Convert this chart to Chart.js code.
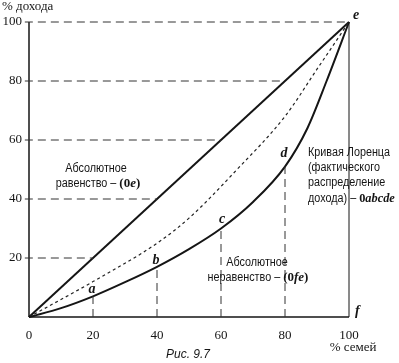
<!DOCTYPE html>
<html>
<head>
<meta charset="utf-8">
<script src="https://cdn.jsdelivr.net/npm/chart.js@4/dist/chart.umd.min.js"></script>
<style>
html,body{margin:0;padding:0;background:#fff;}
#c{display:block;}
</style>
</head>
<body>
<canvas id="c" width="399" height="363"></canvas>
<script>
// ---- data ----
const xTicks = [0, 20, 40, 60, 80, 100];
const yTicks = [20, 40, 60, 80, 100];
const equalityX = [0, 100];
const equalityY = [0, 100];
// Lorenz curve 0abcde (with extra readings between the named points)
const lorenzX = [0, 10, 20, 30, 40, 50, 60, 70, 80, 87, 93, 100];
const lorenzY = [0, 3, 7, 11.8, 17, 23, 30, 39, 51, 64, 80, 100];
// intermediate (dashed) curve
const midX = [0, 20, 40, 50, 65, 80, 90, 100];
const midY = [0, 12, 25, 33.5, 50, 68, 84, 100];
// named points on the Lorenz curve
const pointNames = ['a', 'b', 'c', 'd'];
const pointX = [20, 40, 60, 80];
const pointY = [7, 17, 30, 51];

const INK = '#151515';
const SERIF = '"Liberation Serif", "Times New Roman", serif';
const SANS = '"Liberation Sans", Arial, sans-serif';
const NARROW = 0.9;

function pts(xs, ys) { return xs.map((x, i) => ({x: x, y: ys[i]})); }

const datasets = [];
// horizontal dashed guides from y axis (with small tick stub) to the diagonal
yTicks.forEach(v => {
  datasets.push({data: [{x: -1.3, y: v}, {x: v, y: v}], borderColor: '#333', borderWidth: 1,
    borderDash: [8, 5], clip: false});
});
// vertical dashed guides from the x axis up to the Lorenz points
pointX.forEach((x, i) => {
  datasets.push({data: [{x: x, y: 0}, {x: x, y: pointY[i]}], borderColor: '#333', borderWidth: 1,
    borderDash: [8, 5], clip: false});
});
// axes and right edge (0f, fe)
datasets.push({data: [{x: 0, y: 0}, {x: 0, y: 100}], borderColor: INK, borderWidth: 1.5, clip: false});
datasets.push({data: [{x: 0, y: 0}, {x: 100, y: 0}], borderColor: INK, borderWidth: 1.5, clip: false});
datasets.push({data: [{x: 100, y: 0}, {x: 100, y: 100}], borderColor: INK, borderWidth: 1, clip: false});
// dashed intermediate curve
datasets.push({data: pts(midX, midY), borderColor: '#222', borderWidth: 1.2, borderDash: [3, 3],
  cubicInterpolationMode: 'monotone', clip: false});
// line of absolute equality
datasets.push({data: pts(equalityX, equalityY), borderColor: INK, borderWidth: 2, clip: false});
// Lorenz curve
datasets.push({data: pts(lorenzX, lorenzY), borderColor: INK, borderWidth: 2,
  cubicInterpolationMode: 'monotone', clip: false});

datasets.forEach(d => { d.showLine = true; d.pointRadius = 0; d.fill = false; });

// draw a line of mixed-font text; parts are [text, font, horizontalScale]
function runs(ctx, parts, x, y, align) {
  let w = 0;
  parts.forEach(p => { ctx.font = p[1]; w += ctx.measureText(p[0]).width * (p[2] || 1); });
  let cx = align === 'center' ? x - w / 2 : (align === 'right' ? x - w : x);
  ctx.textAlign = 'left';
  parts.forEach(p => {
    const s = p[2] || 1;
    ctx.font = p[1];
    ctx.save();
    ctx.translate(cx, y);
    ctx.scale(s, 1);
    ctx.fillText(p[0], 0, 0);
    ctx.restore();
    cx += ctx.measureText(p[0]).width * s;
  });
}

const textPlugin = {
  id: 'texts',
  afterDatasetsDraw(chart) {
    const ctx = chart.ctx, xs = chart.scales.x, ys = chart.scales.y;
    const X = v => xs.getPixelForValue(v), Y = v => ys.getPixelForValue(v);
    ctx.save();
    ctx.fillStyle = INK;
    ctx.textBaseline = 'middle';
    // y tick labels
    ctx.font = '13px ' + SERIF;
    ctx.textAlign = 'right';
    yTicks.forEach(v => ctx.fillText(String(v), X(0) - 7, Y(v)));
    // x tick labels
    ctx.textAlign = 'center';
    xTicks.forEach(v => ctx.fillText(String(v), X(v), Y(0) + 19));
    // axis titles
    ctx.textAlign = 'left';
    ctx.fillText('% дохода', 2, 7);
    ctx.textAlign = 'center';
    ctx.fillText('% семей', X(100) + 4, Y(0) + 31);
    // corner letters
    ctx.font = 'bold italic 14px ' + SERIF;
    ctx.textAlign = 'left';
    ctx.fillText('e', X(100) + 4, Y(100) - 7);
    ctx.fillText('f', X(100) + 6, Y(0) - 6);
    // point letters
    const offs = [[-1, -7], [-1, -6], [1, -9], [-1, -13]];
    ctx.textAlign = 'center';
    pointNames.forEach((n, i) => ctx.fillText(n, X(pointX[i]) + offs[i][0], Y(pointY[i]) + offs[i][1]));
    // annotations
    const sans = '12px ' + SANS;
    const bold = 'bold 13px ' + SERIF;
    const bi = 'bold italic 13px ' + SERIF;
    runs(ctx, [['Абсолютное', sans, NARROW]], 96, 169, 'center');
    runs(ctx, [['равенство – ', sans, NARROW], ['(0', bold], ['e', bi], [')', bold]], 98, 184, 'center');
    runs(ctx, [['Абсолютное', sans, NARROW]], 257, 263, 'center');
    runs(ctx, [['неравенство – ', sans, NARROW], ['(0', bold], ['fe', bi], [')', bold]], 258, 278, 'center');
    runs(ctx, [['Кривая Лоренца', sans, NARROW]], 308, 153, 'left');
    runs(ctx, [['(фактического', sans, NARROW]], 308, 168, 'left');
    runs(ctx, [['распределение', sans, NARROW]], 308, 183, 'left');
    runs(ctx, [['дохода) – ', sans, NARROW], ['0', bold, 0.95], ['abcde', bi, 0.95]], 308, 199, 'left');
    // caption
    ctx.font = 'italic 12px ' + SANS;
    ctx.textAlign = 'center';
    ctx.fillText('Рис. 9.7', 188, 355);
    ctx.restore();
  }
};

new Chart(document.getElementById('c'), {
  type: 'scatter',
  data: {datasets: datasets},
  options: {
    responsive: false,
    animation: false,
    events: [],
    layout: {padding: {left: 29, right: 50, top: 22, bottom: 46}},
    plugins: {legend: {display: false}, tooltip: {enabled: false}},
    scales: {
      x: {type: 'linear', min: 0, max: 100, display: false},
      y: {type: 'linear', min: 0, max: 100, display: false}
    }
  },
  plugins: [textPlugin]
});
</script>
</body>
</html>
